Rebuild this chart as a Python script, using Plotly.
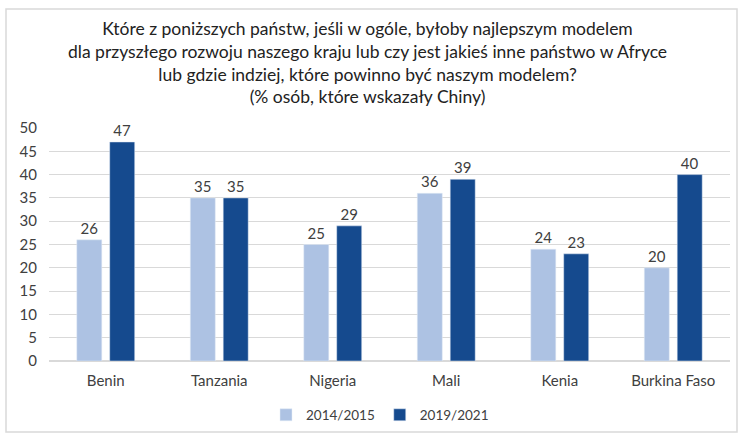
import plotly.graph_objects as go

countries = ['Benin', 'Tanzania', 'Nigeria', 'Mali', 'Kenia', 'Burkina Faso']
values_2014 = [26, 35, 25, 36, 24, 20]
values_2019 = [47, 35, 29, 39, 23, 40]
series_names = ['2014/2015', '2019/2021']

title_lines = [
    'Które z poniższych państw, jeśli w ogóle, byłoby najlepszym modelem',
    'dla przyszłego rozwoju naszego kraju lub czy jest jakieś inne państwo w Afryce',
    'lub gdzie indziej, które powinno być naszym modelem?',
    '(% osób, które wskazały Chiny)',
]

TEXT = '#404040'
FONT = 'Lato, sans-serif'

# plot area in pixels: x 49..730, y 128..361
PLOT_L, PLOT_R, PLOT_T, PLOT_B = 49, 730, 128, 361
PW, PH = PLOT_R - PLOT_L, PLOT_B - PLOT_T


def px_x(x):
    return (x - PLOT_L) / PW


def px_y(y):
    return (PLOT_B - y) / PH


fig = go.Figure()
fig.add_trace(go.Bar(
    x=countries, y=values_2014, name=series_names[0],
    marker=dict(color='#ADC2E3'),
    text=values_2014, textposition='outside',
    textfont=dict(size=15, color=TEXT), cliponaxis=False,
))
fig.add_trace(go.Bar(
    x=countries, y=values_2019, name=series_names[1],
    marker=dict(color='#154A8E'),
    text=values_2019, textposition='outside',
    textfont=dict(size=15, color=TEXT), cliponaxis=False,
))

fig.update_layout(
    width=743, height=436,
    margin=dict(l=PLOT_L, r=743 - PLOT_R, t=PLOT_T, b=436 - PLOT_B, autoexpand=False),
    paper_bgcolor='white', plot_bgcolor='white',
    font=dict(family=FONT, size=15, color=TEXT),
    barmode='group', bargap=0.42, bargroupgap=0.24,
    annotations=[dict(
        text='<br>'.join(title_lines), xref='paper', yref='paper',
        x=px_x(367), y=px_y(62), xanchor='center', yanchor='middle',
        align='center', showarrow=False,
        font=dict(family=FONT, size=17.5, color='#222222'),
    )],
    legend=dict(
        orientation='h', x=px_x(380), xanchor='center', y=px_y(415), yanchor='middle',
        font=dict(size=13.5, color=TEXT), itemwidth=30,
    ),
    showlegend=True,
    shapes=[dict(
        type='rect', xref='paper', yref='paper',
        x0=px_x(6), x1=px_x(737), y0=px_y(432), y1=px_y(9),
        line=dict(color='#d9d9d9', width=1.5), layer='below',
    )],
)
fig.update_yaxes(
    range=[0, 50], dtick=5, showgrid=True, gridcolor='#d9d9d9', gridwidth=1,
    zeroline=True, zerolinecolor='#d9d9d9', ticks='', ticklabelstandoff=11,
    tickfont=dict(size=15, color=TEXT),
)
fig.update_xaxes(
    showline=True, linecolor='#d9d9d9', ticks='', ticklabelstandoff=6,
    tickfont=dict(size=15, color=TEXT),
)

# the page body has a default 8px margin; drop it so the figure sits at the corner
fig.write_html("out.html", config={'displayModeBar': False},
               post_script="document.body.style.margin = '0px';")
